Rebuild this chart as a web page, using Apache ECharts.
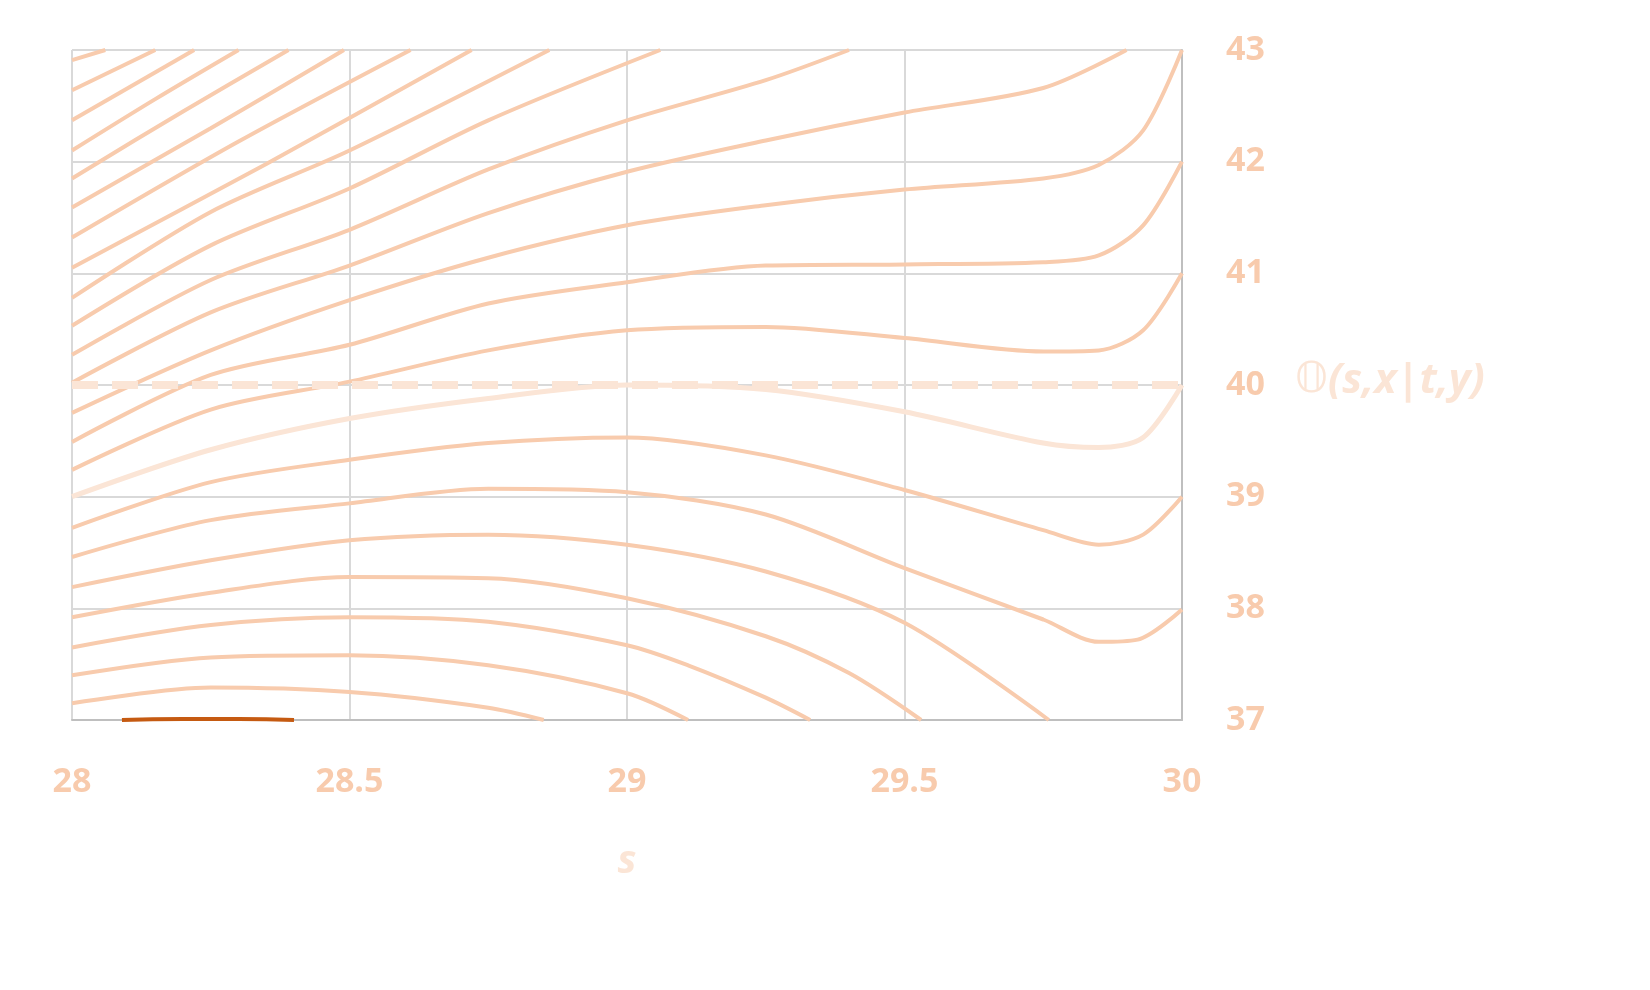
<!DOCTYPE html>
<html>
<head>
<meta charset="utf-8">
<script src="https://cdn.jsdelivr.net/npm/echarts@6/dist/echarts.min.js"></script>
<style>html,body{margin:0;padding:0;background:#fff}#c{width:1650px;height:990px}</style>
</head>
<body>
<div id="c"></div>
<script>
// level curves, [s, value]
const curveA = [[28, 37.15], [28.25, 37.29], [28.5, 37.25], [28.75, 37.11], [28.85, 37.0]];
const curveB = [[28, 37.40], [28.25, 37.56], [28.5, 37.58], [28.75, 37.49], [29, 37.24], [29.11, 37.0]];
const curveC = [[28, 37.65], [28.25, 37.85], [28.5, 37.92], [28.75, 37.88], [29, 37.67], [29.11, 37.49], [29.25, 37.2], [29.33, 37.0]];
const curveD = [[28, 37.92], [28.25, 38.14], [28.5, 38.28], [28.75, 38.27], [29, 38.09], [29.25, 37.75], [29.4, 37.42], [29.53, 37.0]];
const curveE = [[28, 38.19], [28.25, 38.43], [28.5, 38.61], [28.75, 38.66], [29, 38.57], [29.25, 38.33], [29.5, 37.87], [29.76, 37.0]];
const curveF = [[28, 38.46], [28.25, 38.79], [28.5, 38.94], [28.75, 39.07], [29, 39.04], [29.25, 38.84], [29.5, 38.36], [29.75, 37.90], [29.85, 37.70], [29.92, 37.72], [30, 37.99]];
const curveG = [[28, 38.72], [28.25, 39.13], [28.5, 39.33], [28.75, 39.48], [29, 39.53], [29.25, 39.37], [29.5, 39.06], [29.75, 38.70], [29.85, 38.57], [29.93, 38.66], [30, 39.0]];
const curveH = [[28, 39.0], [28.25, 39.42], [28.5, 39.70], [28.75, 39.88], [29, 40.0], [29.25, 39.96], [29.5, 39.76], [29.75, 39.48], [29.85, 39.44], [29.93, 39.53], [30, 40.0]];
const curveI = [[28, 39.24], [28.25, 39.78], [28.5, 40.03], [28.75, 40.31], [29, 40.49], [29.25, 40.52], [29.5, 40.42], [29.75, 40.30], [29.85, 40.31], [29.93, 40.49], [30, 41.0]];
const curveJ = [[28, 39.49], [28.25, 40.09], [28.5, 40.36], [28.75, 40.73], [29, 40.92], [29.25, 41.07], [29.5, 41.08], [29.75, 41.10], [29.85, 41.16], [29.93, 41.43], [30, 42.0]];
const curveK = [[28, 39.75], [28.25, 40.31], [28.5, 40.76], [28.75, 41.14], [29, 41.43], [29.25, 41.61], [29.5, 41.75], [29.75, 41.85], [29.85, 41.97], [29.93, 42.28], [30, 43.0]];
const curveL = [[28, 40.02], [28.25, 40.65], [28.5, 41.07], [28.75, 41.54], [29, 41.91], [29.25, 42.19], [29.5, 42.44], [29.75, 42.66], [29.9, 43.0]];
const curveM = [[28, 40.27], [28.25, 40.94], [28.5, 41.39], [28.75, 41.93], [29, 42.37], [29.25, 42.73], [29.4, 43.0]];
const curveN = [[28, 40.53], [28.25, 41.25], [28.5, 41.76], [28.75, 42.37], [29.06, 43.0]];
const curveO = [[28, 40.78], [28.25, 41.55], [28.5, 42.10], [28.86, 43.0]];
const curveP = [[28, 41.05], [28.35, 41.98], [28.72, 43.0]];
const curveQ = [[28, 41.32], [28.3, 42.18], [28.61, 43.0]];
const curveR = [[28, 41.59], [28.25, 42.30], [28.49, 43.0]];
const curveS = [[28, 41.85], [28.2, 42.45], [28.39, 43.0]];
const curveT = [[28, 42.10], [28.15, 42.56], [28.30, 43.0]];
const curveU = [[28, 42.37], [28.22, 43.0]];
const curveV = [[28, 42.64], [28.15, 43.0]];
const curveW = [[28, 42.91], [28.06, 43.0]];
const darkSeg = [[28.09, 37.0], [28.2, 37.01], [28.3, 37.01], [28.4, 37.0]];
const dashed = [[28, 40], [30, 40]];
const xTicks = [28, 30, 0.5];
const yTicks = [37, 43, 1];

const plain = [curveA, curveB, curveC, curveD, curveE, curveF, curveG, curveI, curveJ, curveK,
  curveL, curveM, curveN, curveO, curveP, curveQ, curveR, curveS, curveT, curveU, curveV, curveW];

const series = plain.map(d => ({
  type: 'line', data: d, smooth: 0.3, symbol: 'none',
  lineStyle: { color: '#f8cbad', width: 4 }
}));
series.push({ type: 'line', data: dashed, symbol: 'none', lineStyle: { color: '#fbe5d6', width: 8, type: [26, 14] } });
series.push({ type: 'line', data: curveH, smooth: 0.3, symbol: 'none', lineStyle: { color: '#fbe5d6', width: 5 } });
series.push({ type: 'line', data: darkSeg, smooth: true, symbol: 'none', lineStyle: { color: '#c55a11', width: 4 } });

const lbl = { color: '#f8cbad', fontSize: 34, fontWeight: 'bold', fontFamily: 'Open Sans' };
const chart = echarts.init(document.getElementById('c'));
chart.setOption({
  animation: false,
  grid: { left: 72, right: 468, top: 50, bottom: 270 },
  xAxis: {
    type: 'value', min: xTicks[0], max: xTicks[1], interval: xTicks[2],
    axisLine: { show: true, lineStyle: { color: '#bfbfbf', width: 2 } },
    axisTick: { show: false },
    splitLine: { lineStyle: { color: '#d9d9d9', width: 2 } },
    axisLabel: Object.assign({ margin: 45 }, lbl),
    name: 's', nameLocation: 'middle', nameGap: 122,
    nameTextStyle: { color: '#fbe5d6', fontSize: 40, fontStyle: 'italic', fontWeight: 'bold', fontFamily: 'Open Sans' }
  },
  yAxis: {
    type: 'value', position: 'right', min: yTicks[0], max: yTicks[1], interval: yTicks[2],
    axisLine: { show: true, lineStyle: { color: '#bfbfbf', width: 2 } },
    axisTick: { show: false },
    splitLine: { lineStyle: { color: '#d9d9d9', width: 2 } },
    axisLabel: Object.assign({ margin: 44 }, lbl)
  },
  graphic: [{
    type: 'text', left: 1295, top: 360,
    style: {
      text: '{o|𝕆}{t|(s,x|t,y)}',
      rich: {
        o: { fill: '#fbe5d6', fontSize: 42, fontFamily: 'DejaVu Sans' },
        t: { fill: '#fbe5d6', fontSize: 42, fontStyle: 'italic', fontWeight: 'bold', fontFamily: 'Open Sans' }
      }
    }
  }],
  series: series
});
</script>
</body>
</html>
